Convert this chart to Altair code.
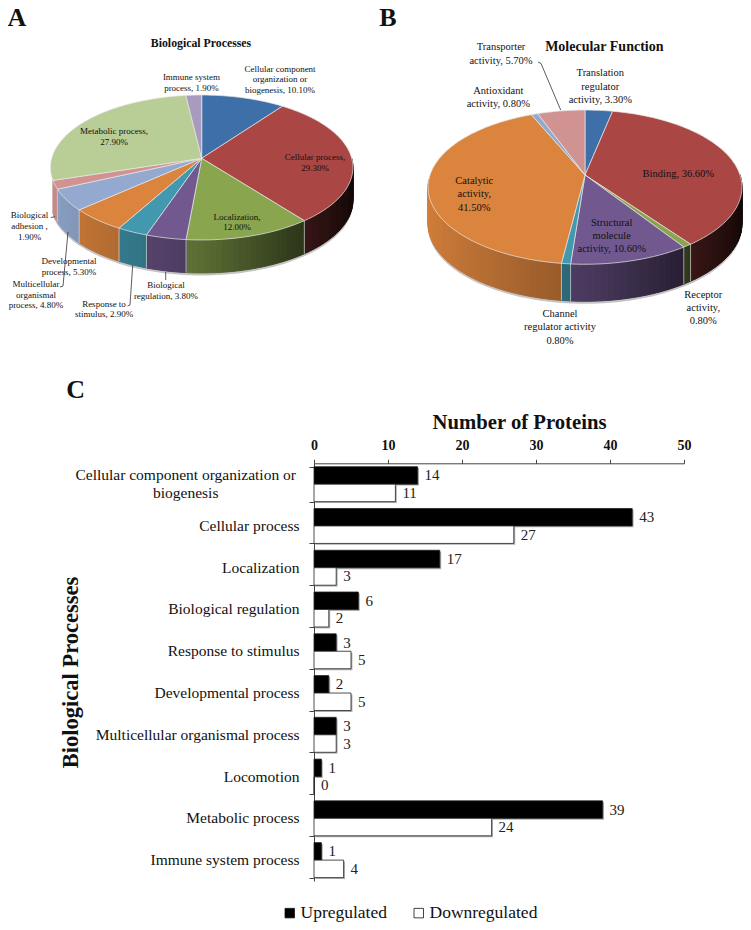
import math
import altair as alt

# ---------- values ----------
bp_names = ["Cellular component organization or biogenesis", "Cellular process", "Localization",
            "Biological regulation", "Response to stimulus", "Developmental process",
            "Multicellular organismal process", "Biological adhesion", "Metabolic process", "Immune system process"]
bp_share = [10.1, 29.3, 12.0, 3.8, 2.9, 5.3, 4.8, 1.9, 27.9, 1.9]
mf_names = ["Translation regulator activity", "Binding", "Receptor activity", "Structural molecule activity",
            "Channel regulator activity", "Catalytic activity", "Antioxidant activity", "Transporter activity"]
mf_share = [3.3, 36.6, 0.8, 10.6, 0.8, 41.5, 0.8, 5.7]

categories = ["Cellular component organization or biogenesis", "Cellular process", "Localization",
              "Biological regulation", "Response to stimulus", "Developmental process",
              "Multicellular organismal process", "Locomotion", "Metabolic process", "Immune system process"]
upregulated = [14, 43, 17, 6, 3, 2, 3, 1, 39, 1]
downregulated = [11, 27, 3, 2, 5, 5, 3, 0, 24, 4]

# ---------- styles ----------
bp_colors = ["#3F6FA8", "#AA4643", "#89A54E", "#71588F", "#4198AF", "#DB843D", "#93A9CF", "#D19392", "#B9CD96", "#A99BBD"]
mf_colors = ["#3F6FA8", "#AA4643", "#89A54E", "#71588F", "#4198AF", "#DB843D", "#93A9CF", "#D19392"]
FONT = "Liberation Serif"
OFF = 8  # page margin

pie_a = dict(ax=201.7, ay=158.3, A=150, B=71.3, k=0.1268, depth=33, left_v=0.3)
pie_b = dict(ax=585.0, ay=175.0, A=155, B=75.2, k=0.1575, depth=37, left_v=0.05)


def shade(hex_color, f):
    r, g, b = (int(hex_color[i:i + 2], 16) for i in (1, 3, 5))
    return "#%02x%02x%02x" % (min(255, int(r * f)), min(255, int(g * f)), min(255, int(b * f)))


def rim(p, theta, drop=0.0):
    u, v = math.sin(theta), -math.cos(theta)
    d = 1 - p["k"] * v
    return [p["ax"] + p["A"] * u / d - OFF, p["ay"] + p["B"] * v / d - OFF + drop]


def feature(coords, color, edge=None):
    return {"type": "Feature", "properties": {"color": color, "edge": edge or color},
            "geometry": {"type": "Polygon", "coordinates": [coords + [coords[0]]]}}


def line_feature(coords):
    return {"type": "Feature", "properties": {}, "geometry": {"type": "LineString", "coordinates": coords}}


def wall_factor(u):
    return 0.66 - 0.55 * u if u > 0 else 0.66 - 0.3 * u


def shows_wall(p, theta):
    u, v = math.sin(theta), -math.cos(theta)
    return v > (p["left_v"] if u < 0 else 0.0)


def pie_parts(p, shares, colors):
    total = sum(shares)
    tops, walls, seams, shadow = [], [], [], []
    steps = [2 * math.pi * i / 180 for i in range(181)]
    shadow.append(feature([rim(p, t, p["depth"] + 2.5) for t in steps if shows_wall(p, t)], "#c4c4c4"))
    cum = 0.0
    for share, color in zip(shares, colors):
        t0 = 2 * math.pi * cum / total
        cum += share
        t1 = 2 * math.pi * cum / total
        n = max(2, int((t1 - t0) / math.radians(2)) + 1)
        ts = [t0 + (t1 - t0) * i / n for i in range(n + 1)]
        tops.append(feature([[p["ax"] - OFF, p["ay"] - OFF]] + [rim(p, t) for t in ts], color, "#e6e6e6"))
        for a, b in zip(ts[:-1], ts[1:]):
            if shows_wall(p, (a + b) / 2):
                c = shade(color, wall_factor(math.sin((a + b) / 2)))
                walls.append(feature([rim(p, a), rim(p, b), rim(p, b, p["depth"]), rim(p, a, p["depth"])], c))
        if shows_wall(p, t1):
            seams.append(line_feature([rim(p, t1), rim(p, t1, p["depth"])]))
    return tops, walls, seams, shadow


ta, wa, sa, sha = pie_parts(pie_a, bp_share, bp_colors)
tb, wb, sb, shb = pie_parts(pie_b, mf_share, mf_colors)

leader_paths = [
    [[50.7, 217.5], [55, 216.7]],
    [[68, 232], [63, 286], [60, 287]],
    [[132.7, 265], [130, 305], [127.5, 306]],
    [[165.7, 272], [165.7, 280]],
    [[538, 62], [541, 63.5], [560.7, 110]],
]
leaders = [line_feature([[x - OFF, y - OFF] for x, y in path]) for path in leader_paths]

pie_small = [
    ("Cellular component\norganization or\nbiogenesis, 10.10%", 280, 79.5),
    ("Immune system\nprocess, 1.90%", 191.5, 82.7),
    ("Metabolic process,\n27.90%", 114, 136.7),
    ("Cellular process,\n29.30%", 315, 162.7),
    ("Localization,\n12.00%", 237, 222),
    ("Biological\nregulation, 3.80%", 166, 290.7),
    ("Response to\nstimulus, 2.90%", 104, 309),
    ("Multicellular\norganismal\nprocess, 4.80%", 36, 294.7),
    ("Developmental\nprocess, 5.30%", 69, 266.7),
    ("Biological\nadhesion ,\n1.90%", 29.5, 226),
]
pie_large = [
    ("Transporter\nactivity, 5.70%", 501, 54),
    ("Translation\nregulator\nactivity, 3.30%", 600.3, 86.7),
    ("Antioxidant\nactivity, 0.80%", 498.3, 97.7),
    ("Binding, 36.60%", 678.3, 174.3),
    ("Catalytic\nactivity,\n41.50%", 474.3, 194.3),
    ("Structural\nmolecule\nactivity, 10.60%", 611.7, 236),
    ("Receptor\nactivity,\n0.80%", 703.3, 308),
    ("Channel\nregulator  activity\n0.80%", 560, 327.3),
]
headings = [("Biological Processes", 201, 43, 11.8), ("Molecular Function", 604.3, 47, 14),
            ("A", 17, 18, 26), ("B", 388, 18, 26), ("C", 75.7, 390, 26)]

PROJ = dict(type="identity", scale=1, translate=[0, 0])


def geo(features, **mark):
    return alt.Chart(alt.Data(values=features)).mark_geoshape(**mark).project(**PROJ)


def poly_layer(features, sw):
    return geo(features, strokeWidth=sw).encode(
        fill=alt.Fill("properties.color:N", scale=None),
        stroke=alt.Stroke("properties.edge:N", scale=None))


def text_layer(rows, size, bold=False, line_height=12):
    vals = []
    for t, x, y in rows:
        n = t.count("\n")
        vals.append({"t": t, "px": x - OFF, "py": y - OFF - n * line_height / 2})
    kw = dict(lineBreak="\n", font=FONT, fontSize=size, align="center", baseline="middle", color="#111111",
              lineHeight=line_height)
    if bold:
        kw["fontWeight"] = "bold"
    return alt.Chart(alt.Data(values=vals)).mark_text(**kw).encode(
        longitude="px:Q", latitude="py:Q", text="t:N").project(**PROJ)


pie_layers = [
    poly_layer(sha + shb, 0),
    poly_layer(wa + wb, 1),
    poly_layer(ta + tb, 0.7),
    geo(sa + sb, filled=False, stroke="#d8d8d8", strokeWidth=0.7),
    geo(leaders, filled=False, stroke="#333333", strokeWidth=0.8),
    text_layer(pie_small, 9, line_height=10.6),
    text_layer(pie_large, 10.5, line_height=13.4),
]
for t, x, y, s in headings:
    pie_layers.append(text_layer([(t, x, y)], s, bold=True))

# ---------- bar panel ----------
rows = []
for c, u, d in zip(categories, upregulated, downregulated):
    rows.append({"cat": c, "series": "Upregulated", "n": u})
    rows.append({"cat": c, "series": "Downregulated", "n": d})

series = ["Upregulated", "Downregulated"]
X0, X1, Y0, Y1 = 314 - OFF, 684 - OFF, 463.3 - OFF, 881 - OFF
SH = 1.4  # bar shadow shift
x_scale = alt.Scale(domain=[0, 50], range=[X0, X1], nice=False)
y_scale = alt.Scale(domain=categories, range=[Y0, Y1], paddingInner=0.163, paddingOuter=0.0815)
x_shadow = alt.Scale(domain=[0, 50], range=[X0 + SH, X1 + SH], nice=False)
y_shadow = alt.Scale(domain=categories, range=[Y0 + SH, Y1 + SH], paddingInner=0.163, paddingOuter=0.0815)
y_off = alt.YOffset("series:N", sort=series, scale=alt.Scale(domain=series, paddingInner=0, paddingOuter=0))
base = alt.Chart(alt.Data(values=rows))

shadow = base.transform_filter("datum.n > 0").mark_bar(color="#9a9a9a", opacity=0.8).encode(
    x=alt.X("n:Q", scale=x_shadow, axis=None),
    y=alt.Y("cat:N", scale=y_shadow, axis=None),
    yOffset=y_off,
)

bars = base.mark_bar(stroke="#222222", strokeWidth=0.8).encode(
    x=alt.X("n:Q", scale=x_scale, axis=alt.Axis(
        orient="top", offset=-Y0, values=[0, 10, 20, 30, 40, 50], grid=False,
        labelFont=FONT, labelFontSize=14, labelFontWeight="bold", labelColor="#111111", labelPadding=7,
        labelFlush=False, labelBound=False,
        tickColor="#444444", tickSize=4, domainColor="#444444",
        title="Number of Proteins", titleFont=FONT, titleFontSize=20.7, titleFontWeight="bold", titleColor="#111111",
        titleX=511, titleY=-31)),
    y=alt.Y("cat:N", scale=y_scale, axis=alt.Axis(
        orient="left", offset=-X0, labels=False, grid=False, tickBand="extent",
        tickColor="#444444", tickSize=5, domainColor="#444444",
        title="Biological  Processes", titleFont=FONT, titleFontSize=22.5, titleFontWeight="bold", titleColor="#111111",
        titleAngle=270, titleX=-232, titleY=664)),
    yOffset=y_off,
    fill=alt.Fill("series:N", scale=alt.Scale(domain=series, range=["#000000", "#ffffff"]),
                  legend=alt.Legend(
                      orient="none", legendX=273, legendY=896, direction="horizontal", columns=2, title=None,
                      labelFont=FONT, labelFontSize=17.5, labelColor="#111111", symbolType="square", symbolSize=90,
                      symbolStrokeColor="#111111", symbolStrokeWidth=0.8, columnPadding=23, labelOffset=2)),
)

value_labels = base.mark_text(font=FONT, fontSize=15, align="left", baseline="middle", dx=7, color="#222222").encode(
    x=alt.X("n:Q", scale=x_scale, axis=None),
    y=alt.Y("cat:N", scale=y_scale, axis=None),
    yOffset=y_off,
    text="n:Q",
)

cat_one = alt.Chart(alt.Data(values=[{"cat": categories[0], "t": "Cellular component organization or\nbiogenesis"}])).mark_text(
    font=FONT, fontSize=15.5, align="center", baseline="middle", lineBreak="\n", lineHeight=18, color="#111111", dy=-9,
).encode(x=alt.value(185.7 - OFF), y=alt.Y("cat:N", scale=y_scale, axis=None), text="t:N")

cat_rest = alt.Chart(alt.Data(values=[{"cat": c} for c in categories[1:]])).mark_text(
    font=FONT, fontSize=15.5, align="right", baseline="middle", color="#111111",
).encode(x=alt.value(299.5 - OFF), y=alt.Y("cat:N", scale=y_scale, axis=None), text="cat:N")

chart = alt.layer(*pie_layers, shadow, bars, value_labels, cat_one, cat_rest).resolve_scale(
    x="independent", y="independent",
).properties(
    width=735, height=914, padding=0, autosize=alt.AutoSizeParams(type="none"),
    background="white",
).configure_view(strokeWidth=0)

chart.save("out.html", embed_options={"renderer": "svg", "actions": False})
